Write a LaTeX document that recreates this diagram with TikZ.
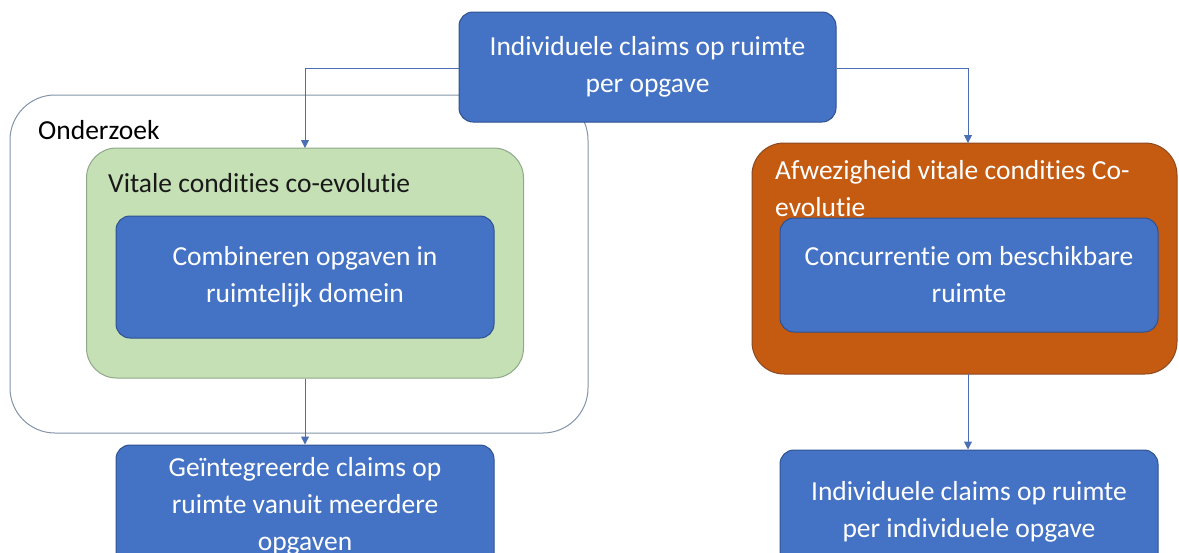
\documentclass[tikz,border=0pt]{standalone}
\usepackage{fontspec}
\setmainfont{Carlito}[Ligatures={NoCommon}]
\usetikzlibrary{arrows.meta}
\definecolor{boxblue}{HTML}{4472C4}
\definecolor{boxblueline}{HTML}{2F528F}
\definecolor{leafgreen}{HTML}{C5E0B4}
\definecolor{leafline}{HTML}{8FA88A}
\definecolor{rust}{HTML}{C55A11}
\definecolor{rustline}{HTML}{8C4A22}
\definecolor{frameline}{HTML}{8494A8}
\definecolor{linkblue}{HTML}{4A6FB5}
\newcommand{\labelfont}{\fontsize{27.5}{37}\selectfont}
\tikzset{
  bluebox/.style={rectangle, rounded corners=14pt, fill=boxblue, draw=boxblueline,
    line width=1pt, text=white, align=center, font=\labelfont, inner sep=0pt},
  holder/.style={rectangle, inner sep=0pt, line width=1pt},
  link/.style={draw=linkblue, line width=1pt, -{Triangle[length=8pt,width=8pt]}},
  caption/.style={anchor=west, inner sep=0pt, font=\labelfont, align=left}
}
\begin{document}
\begin{tikzpicture}[x=1pt, y=-1pt]
  \useasboundingbox (0,0) rectangle (1179,552);
  \clip (0,0) rectangle (1179,552);

  % research frame
  \node[holder, rounded corners=45pt, fill=white, draw=frameline,
        minimum width=578pt, minimum height=338pt] (frame) at (299,264) {};
  \node[caption, text=black] (framelabel) at (38,130) {Onderzoek};

  % vital conditions (green)
  \node[holder, rounded corners=30pt, fill=leafgreen, draw=leafline,
        minimum width=437pt, minimum height=230pt] (green) at (305,263) {};
  \node[caption, text=black!90] (greenlabel) at (108,183) {Vitale condities co-evolutie};
  \node[bluebox, minimum width=378pt, minimum height=122pt] (comb) at (305,277)
    {Combineren opgaven in\\ruimtelijk domein};

  % absence of vital conditions (orange)
  \node[holder, rounded corners=32pt, fill=rust, draw=rustline,
        minimum width=425pt, minimum height=231pt] (orange) at (964.5,258.5) {};
  \node[caption, text=white] (orangelabel) at (775,189)
    {Afwezigheid vitale condities Co-\\evolutie};
  \node[bluebox, minimum width=378pt, minimum height=114pt] (conc) at (969,275)
    {Concurrentie om beschikbare\\ruimte};

  % top source
  \node[bluebox, minimum width=377pt, minimum height=110pt] (top) at (647.5,67)
    {Individuele claims op ruimte\\per opgave};

  % outcomes
  \node[bluebox, minimum width=378pt, minimum height=122pt] (geint) at (305,506)
    {Geïntegreerde claims op\\ruimte vanuit meerdere\\opgaven};
  \node[bluebox, minimum width=378pt, minimum height=124pt] (indiv) at (969,512)
    {Individuele claims op ruimte\\per individuele opgave};

  % connectors
  \coordinate (gtop) at (305,148);
  \coordinate (otop) at (968,143);
  \coordinate (obot) at (968,374);
  \draw[link] (top.west |- 0,68) -| (gtop);
  \draw[link] (top.east |- 0,68) -| (otop);
  \draw[link] (green.south) -- (geint.north);
  \draw[link] (obot) -- (indiv.north -| obot);
\end{tikzpicture}
\end{document}
